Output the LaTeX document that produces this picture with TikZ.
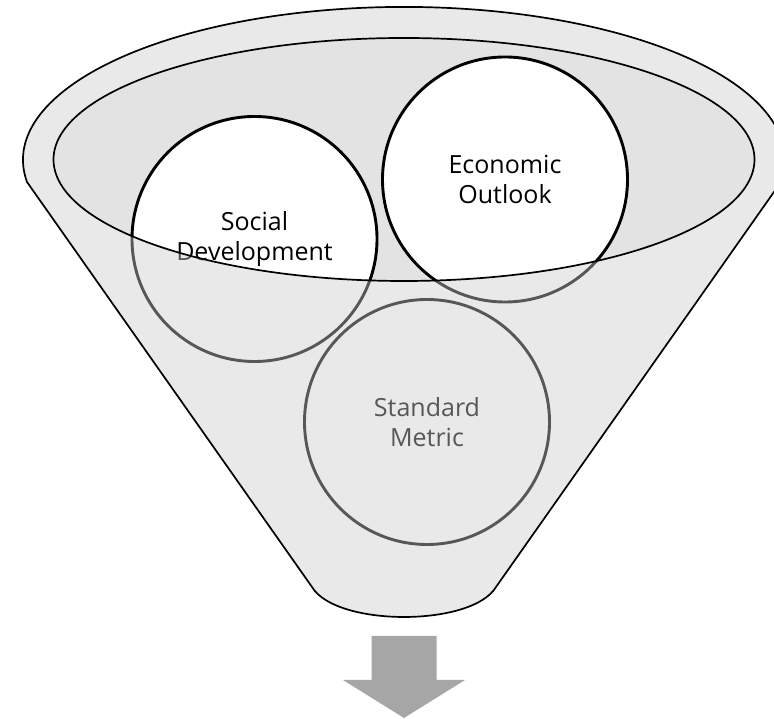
\documentclass[tikz,border=0pt]{standalone}
\usepackage{fontspec}
\setmainfont{Open Sans}
\definecolor{mouthgray}{RGB}{227,227,227}
\definecolor{veilgray}{RGB}{204,204,204}
\definecolor{arrowgray}{RGB}{166,166,166}
% outline of the funnel: top rim, slanted sides, rounded spout
\def\funnelshape{(27,537) arc[start angle=188.3, end angle=-8.3, x radius=381, y radius=153]
  -- (496,132) .. controls (472,92) and (336,92) .. (312,132) -- cycle}
\def\mouthshape{(404,559.5) ellipse[x radius=350.5, y radius=121.5]}
\begin{document}
\begin{tikzpicture}[x=1pt,y=1pt,
  funnelline/.style={draw=black, line width=1.7pt, line join=round},
  bubble/.style={circle, draw=black, fill=white, line width=2.9pt,
    minimum size=245pt, inner sep=0pt, align=center,
    font=\fontsize{25}{29.5}\selectfont},
  veil/.style={fill=veilgray, fill opacity=0.426, even odd rule},
  downarrow/.style={fill=arrowgray}]
\useasboundingbox (0,0) rectangle (774,719);
% funnel body and its mouth
\fill[white] \funnelshape;
\fill[mouthgray] \mouthshape;
% the three circles dropped into the funnel
\node[bubble] (social) at (254.5,480) {Social\\Development};
\node[bubble] (econ) at (505,539.5) {Economic\\Outlook};
\node[bubble] (metric) at (427,297) {Standard\\Metric};
% translucent funnel wall over everything outside the mouth
\fill[veil] \funnelshape \mouthshape;
% outlines
\draw[funnelline] \mouthshape;
\draw[funnelline] \funnelshape;
% output arrow below the spout
\fill[downarrow] (371.5,83) -- (436.5,83) -- (436.5,39) -- (465,39)
  -- (404,1) -- (343,39) -- (371.5,39) -- cycle;
\end{tikzpicture}
\end{document}
